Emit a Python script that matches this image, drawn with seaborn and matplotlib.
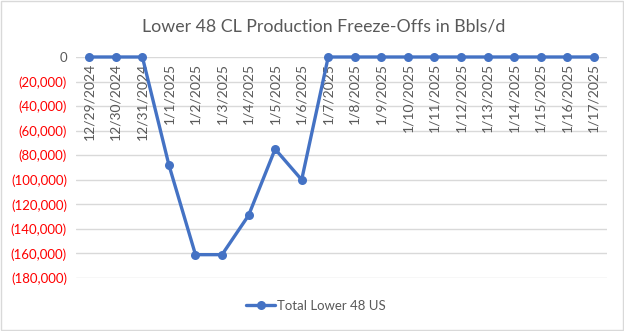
import matplotlib
matplotlib.use("Agg")
import matplotlib.pyplot as plt
import matplotlib.ticker as mticker
import seaborn as sns
import pandas as pd

dates = ["12/29/2024", "12/30/2024", "12/31/2024", "1/1/2025", "1/2/2025",
         "1/3/2025", "1/4/2025", "1/5/2025", "1/6/2025", "1/7/2025",
         "1/8/2025", "1/9/2025", "1/10/2025", "1/11/2025", "1/12/2025",
         "1/13/2025", "1/14/2025", "1/15/2025", "1/16/2025", "1/17/2025"]
freeze_offs = [0, 0, 0, -88000, -161000, -161000, -129000, -75000, -100000, 0,
               0, 0, 0, 0, 0, 0, 0, 0, 0, 0]
series_name = "Total Lower 48 US"
y_ticks = list(range(0, -180001, -20000))

sns.set_theme(style="white")
plt.rcParams["font.family"] = ["Lato", "DejaVu Sans"]

grey_text = "#595959"
line_blue = "#4472C4"

df = pd.DataFrame({"pos": range(len(dates)), "value": freeze_offs, "series": series_name})

fig = plt.figure(figsize=(6.24, 3.31), dpi=100)
ax = fig.add_axes([76 / 624, 1 - 278 / 331, (607 - 76) / 624, (278 - 57) / 331])

sns.lineplot(data=df, x="pos", y="value", hue="series", palette=[line_blue],
             marker="o", markersize=6.5, markeredgewidth=0, linewidth=2.4,
             ax=ax, clip_on=False, zorder=5)

ax.set_xlim(-0.5, len(dates) - 0.5)
ax.set_ylim(-180000, 0)
ax.set_yticks(y_ticks)
ax.grid(axis="y", color="#d9d9d9", linewidth=1)
ax.grid(axis="x", visible=False)
for s in ax.spines.values():
    s.set_visible(False)


def fmt(v, _):
    if v < 0:
        return f"({abs(int(v)):,})"
    return f"{int(v):,}"


ax.yaxis.set_major_formatter(mticker.FuncFormatter(fmt))
ax.tick_params(axis="y", length=0, pad=6.5, labelsize=9.5)
for lbl, v in zip(ax.get_yticklabels(), y_ticks):
    lbl.set_color("#FF0000" if v < 0 else grey_text)

# category labels hang down from the zero line
ax.set_xticks(range(len(dates)))
ax.set_xticklabels([])
ax.tick_params(axis="x", length=0)
for i, d in enumerate(dates):
    ax.annotate(d, xy=(i, 0), xycoords="data", xytext=(0, -4),
                textcoords="offset points", rotation=90, ha="center", va="top",
                fontsize=10, color=grey_text)

ax.set_xlabel("")
ax.set_ylabel("")

fig.text(324 / 624, 1 - 27 / 331, "Lower 48 CL Production Freeze-Offs in Bbls/d",
         ha="center", va="center", fontsize=12.8, color=grey_text)

handles, labels = ax.get_legend_handles_labels()
ax.legend(handles, labels, loc="center", bbox_to_anchor=(316 / 624, 1 - 306 / 331),
          bbox_transform=fig.transFigure, frameon=False, fontsize=9.5,
          labelcolor=grey_text, handlelength=2.2, handletextpad=0.1)

border = plt.Rectangle((0.002, 0.003), 0.996, 0.994, transform=fig.transFigure,
                       fill=False, edgecolor="#d9d9d9", linewidth=1)
fig.patches.append(border)

fig.savefig("out.png", dpi=100, facecolor="white")
